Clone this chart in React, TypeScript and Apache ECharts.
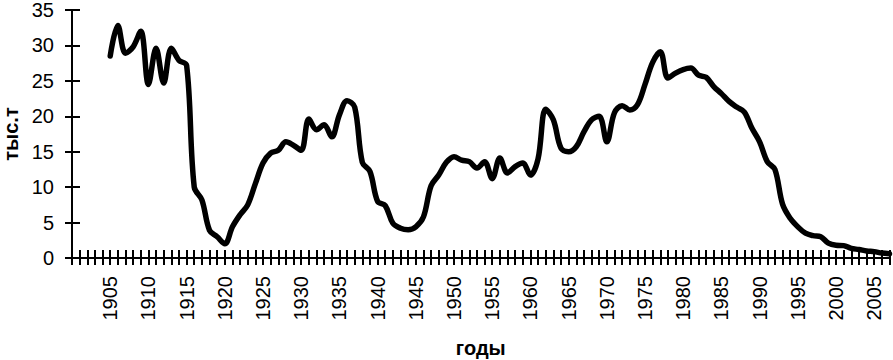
import React, { useEffect, useRef } from "react";
import * as echarts from "echarts";

const firstYear = 1900;
const lastYear = 2007;
const years: string[] = [];
for (let y = firstYear; y <= lastYear; y++) years.push(String(y));

// values for 1905..2007 (thousand tonnes)
const dataStartYear = 1905;
const catchValues = [
  28.5, 32.8, 28.9, 29.8, 32.0, 24.5, 29.6, 24.7, 29.6, 27.9,
  27.2, 10.0, 8.2, 3.9, 3.0, 2.0, 4.4, 6.1, 7.5, 10.5,
  13.4, 14.8, 15.2, 16.4, 15.9, 15.2, 19.6, 18.1, 18.8, 17.1,
  20.2, 22.2, 21.3, 13.5, 12.2, 8.0, 7.4, 4.9, 4.2, 4.0,
  4.4, 5.8, 10.2, 11.7, 13.5, 14.3, 13.8, 13.6, 12.7, 13.6,
  11.2, 14.1, 12.0, 12.9, 13.4, 11.7, 14.0, 21.0, 19.5, 15.5,
  15.0, 15.7, 17.8, 19.5, 20.0, 16.4, 20.5, 21.5, 20.9, 21.6,
  24.5, 27.6, 29.1, 25.4, 26.1, 26.6, 26.8, 25.8, 25.5, 24.2,
  23.2, 22.1, 21.3, 20.6, 18.3, 16.4, 13.6, 12.5, 7.6, 5.6,
  4.4, 3.5, 3.15, 3.0, 2.1, 1.8, 1.75, 1.35, 1.2, 1.0,
  0.9, 0.7, 0.6,
];

const yTicks = { min: 0, max: 35, interval: 5 };
const yName = "тыс.т";
const xName = "годы";

export default function App() {
  const ref = useRef<HTMLDivElement>(null);
  useEffect(() => {
    if (!ref.current) return;
    const chart = echarts.init(ref.current, undefined, { renderer: "svg" });
    const seriesData: (number | null)[] = years.map((y) => {
      const i = Number(y) - dataStartYear;
      return i >= 0 && i < catchValues.length ? catchValues[i] : null;
    });
    const font = "'Liberation Sans', Arial, sans-serif";
    const labelInterval = (_i: number, v: string) =>
      Number(v) % 5 === 0 && Number(v) !== firstYear;
    const axisLine = { show: true, lineStyle: { color: "#000", width: 2 } };
    chart.setOption({
      animation: false,
      backgroundColor: "#fff",
      grid: {
        left: 72,
        right: 3.5,
        top: 10,
        bottom: 102,
        containLabel: false,
        outerBoundsMode: "none",
      },
      xAxis: [
        {
          type: "category",
          data: years,
          boundaryGap: false,
          position: "bottom",
          axisLine,
          axisTick: {
            show: true,
            interval: 0,
            length: 7,
            lineStyle: { color: "#000", width: 2 },
          },
          axisLabel: {
            interval: labelInterval,
            rotate: 90,
            margin: 18,
            fontSize: 20,
            color: "#000",
            fontFamily: font,
          },
          name: xName,
          nameLocation: "middle",
          nameGap: 80,
          nameTextStyle: {
            fontSize: 20,
            fontWeight: "bold",
            color: "#000",
            fontFamily: font,
            lineHeight: 20,
          },
          splitLine: { show: false },
        },
        {
          type: "category",
          data: years,
          boundaryGap: false,
          position: "bottom",
          axisLine,
          axisTick: {
            show: true,
            inside: true,
            interval: 0,
            length: 8,
            lineStyle: { color: "#000", width: 2 },
          },
          axisLabel: { show: false },
          splitLine: { show: false },
        },
      ],
      yAxis: [
        {
          type: "value",
          ...yTicks,
          position: "left",
          axisLine,
          axisTick: { show: true, length: 7, lineStyle: { color: "#000", width: 2 } },
          axisLabel: {
            margin: 18,
            fontSize: 20,
            color: "#000",
            fontFamily: font,
          },
          splitLine: { show: false },
          name: yName,
          nameLocation: "middle",
          nameGap: 50,
          nameTextStyle: {
            fontSize: 20,
            fontWeight: "bold",
            color: "#000",
            fontFamily: font,
            lineHeight: 20,
          },
        },
        {
          type: "value",
          ...yTicks,
          position: "left",
          axisLine,
          axisTick: {
            show: true,
            inside: true,
            length: 8,
            lineStyle: { color: "#000", width: 2 },
          },
          axisLabel: { show: false },
          splitLine: { show: false },
        },
      ],
      series: [
        {
          type: "line",
          data: seriesData,
          xAxisIndex: 0,
          yAxisIndex: 0,
          smooth: 0.35,
          showSymbol: false,
          symbol: "none",
          connectNulls: false,
          lineStyle: { color: "#000", width: 5.5, cap: "round", join: "round" },
        },
      ],
    });
    return () => chart.dispose();
  }, []);
  return (
    <div
      ref={ref}
      style={{ position: "fixed", left: 0, top: 0, width: 893, height: 360 }}
    />
  );
}
